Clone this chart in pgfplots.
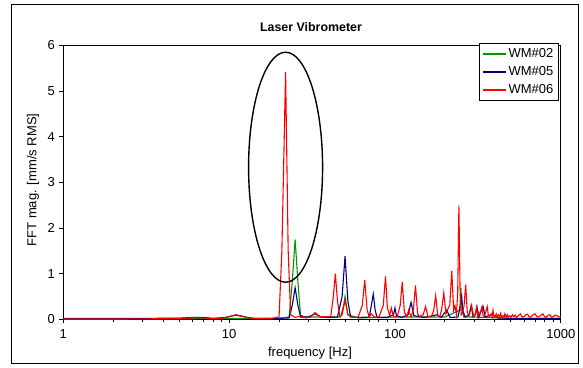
\documentclass[border=0pt]{standalone}
\usepackage{pgfplots}
\pgfplotsset{compat=1.18}
\usepackage{fontspec}
\setmainfont{Liberation Sans}
\definecolor{wmgreen}{RGB}{0,150,0}
\definecolor{wmblue}{RGB}{0,0,128}
\definecolor{wmred}{RGB}{255,0,0}
\begin{document}
\fontsize{13}{15}\selectfont
\begin{tikzpicture}
\useasboundingbox (-63.3pt,-47.7pt) rectangle (519.7pt,319.3pt);
\draw[line width=1pt] (-51.3pt,-43.7pt) rectangle (514.7pt,315pt);
\begin{axis}[
  at={(0pt,0pt)}, anchor=south west,
  scale only axis, width=497.5pt, height=274pt,
  xmode=log, xmin=1, xmax=1000, ymin=0, ymax=6,
  xtick={1,10,100,1000}, xticklabels={1,10,100,1000},
  ytick={0,1,2,3,4,5,6},
  minor xtick={},
  tick align=outside, major tick length=4pt,
  tick style={black, line width=0.8pt},
  axis line style={line width=0.9pt},
  xtick pos=bottom, ytick pos=left,
  /pgf/number format/assume math mode=true,
  tick label style={font=\fontsize{13}{15}\selectfont},
  xticklabel style={yshift=-2pt},
  legend style={at={(rel axis cs:0.996,1.008)}, anchor=north east,
    draw=black, line width=0.8pt, font=\fontsize{13}{15}\selectfont,
    inner xsep=3pt, inner ysep=3pt, row sep=3pt, cells={anchor=west}},
  legend image code/.code={\draw[#1, line width=1.2pt] (0pt,0pt) -- (23pt,0pt);},
  clip=true,
]
\addplot[wmgreen, line width=1.1pt] coordinates {
(1,0.005)(5,0.01)(10,0.02)(15,0.02)(20,0.02)(23,0.05)(24,0.8)(25,1.75)(26,0.8)(27,0.05)(35,0.05)(47,0.05)(49,0.3)(50,0.5)(52,0.1)(60,0.03)(100,0.05)(200,0.05)(246,0.2)(250,0.68)(254,0.2)(260,0.05)(300,0.05)(500,0.02)(1000,0.02)
};
\addlegendentry{WM\#02\hspace{3pt}}
\addplot[wmblue, line width=1.1pt] coordinates {
(1,0.02)(3,0.02)(5,0.025)(6,0.04)(7,0.04)(8,0.02)(9.5,0.04)(11,0.09)(12.5,0.05)(14,0.02)(20,0.02)(23,0.03)(24,0.3)(25,0.69)(26,0.3)(27,0.05)(30,0.05)(33,0.12)(36,0.05)(40,0.04)(45,0.05)(48,0.5)(50,1.38)(52,0.4)(54,0.05)(60,0.04)(70,0.05)(72,0.3)(74,0.55)(76,0.2)(78,0.04)(90,0.04)(98,0.1)(100,0.25)(102,0.08)(110,0.04)(120,0.1)(125,0.37)(130,0.08)(150,0.04)(180,0.1)(190,0.04)(205,0.2)(215,0.04)(240,0.05)(248,0.3)(252,0.55)(256,0.2)(265,0.05)(280,0.1)(288,0.3)(296,0.05)(305,0.1)(312,0.28)(320,0.05)(340,0.28)(350,0.05)(380,0.1)(420,0.03)(500,0.02)(1000,0.02)
};
\addlegendentry{WM\#05\hspace{3pt}}
\addplot[wmred, line width=1.1pt] coordinates {
(1,0.01)(2,0.01)(3,0.01)(4,0.012)(5,0.02)(6,0.03)(7,0.03)(8,0.015)(9,0.02)(10,0.06)(11,0.1)(12,0.07)(13,0.03)(15,0.015)(18,0.02)(20,0.05)(20.8,1.5)(21.9,5.41)(22.7,1.5)(23.5,0.1)(25,0.04)(27.5,0.08)(29,0.03)(31,0.05)(33,0.15)(35,0.06)(38,0.05)(41,0.06)(42.5,0.5)(43.7,1.0)(45,0.4)(46.5,0.06)(48,0.1)(50,0.42)(52,0.1)(55,0.04)(60,0.05)(63.5,0.3)(65.7,0.86)(68,0.2)(70,0.05)(72,0.12)(75,0.05)(80,0.05)(85,0.3)(87.7,0.94)(90,0.25)(93,0.08)(95,0.25)(98,0.06)(103,0.05)(107.5,0.3)(110.7,0.82)(114,0.15)(118,0.06)(121,0.2)(125,0.05)(129,0.2)(133,0.74)(137,0.12)(141,0.06)(148,0.1)(153,0.28)(158,0.06)(165,0.05)(171,0.18)(176,0.52)(181,0.1)(186,0.05)(191,0.2)(197,0.58)(203,0.12)(210,0.25)(214,0.3)(220,1.06)(226,0.2)(230,0.3)(235,0.1)(239,0.6)(243,2.49)(247,0.6)(251,0.1)(256,0.15)(261,0.3)(267,0.76)(273,0.15)(280,0.08)(285,0.2)(290,0.3)(298,0.07)(305,0.1)(310,0.25)(316,0.06)(320,0.15)(325,0.1)(330,0.2)(335,0.28)(340,0.08)(345,0.06)(352,0.15)(360,0.28)(366,0.08)(372,0.06)(380,0.12)(385,0.05)(390,0.2)(396,0.04)(400,0.05)(408,0.12)(414,0.04)(420,0.1)(428,0.06)(434,0.13)(440,0.04)(448,0.08)(455,0.04)(460,0.12)(468,0.05)(475,0.1)(480,0.05)(490,0.08)(500,0.04)(510,0.1)(520,0.06)(530,0.09)(540,0.04)(555,0.08)(570,0.12)(585,0.05)(600,0.06)(615,0.1)(630,0.11)(645,0.05)(660,0.05)(680,0.1)(700,0.12)(720,0.05)(740,0.06)(760,0.09)(780,0.12)(800,0.05)(820,0.05)(840,0.09)(860,0.1)(880,0.04)(900,0.06)(925,0.09)(950,0.08)(975,0.05)(1000,0.06)
};
\addlegendentry{WM\#06\hspace{3pt}}
\draw[black, line width=1.4pt] (axis cs:21.9,3.33) ellipse [x radius=37pt, y radius=115pt];
\end{axis}
\node[font=\bfseries\fontsize{12.4}{14}\selectfont] at (247.7pt,292.3pt) {Laser Vibrometer};
\node[rotate=90] at (-30.3pt,139.3pt) {FFT mag. [mm/s RMS]};
\node at (246.7pt,-33.7pt) {frequency [Hz]};
\end{tikzpicture}
\end{document}
